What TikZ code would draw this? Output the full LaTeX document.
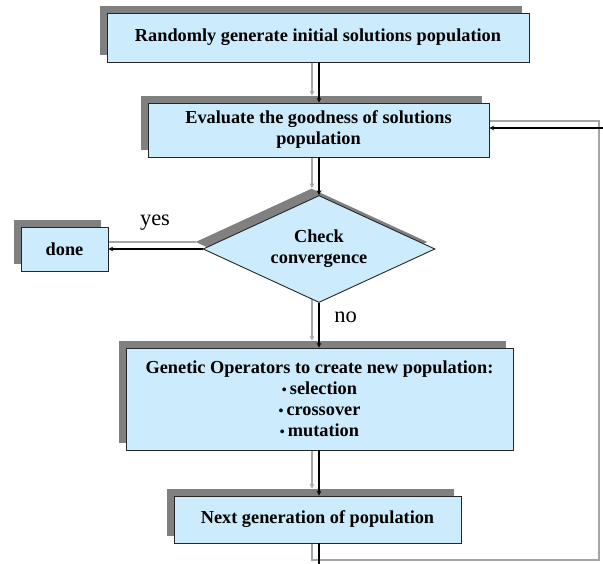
\documentclass[tikz,border=0pt]{standalone}
\usepackage{fontspec}
\setmainfont{Liberation Serif}
\usetikzlibrary{shapes.geometric, shadows, backgrounds}
\definecolor{boxblue}{RGB}{204,235,252}
\definecolor{shadowgray}{RGB}{128,128,128}
\definecolor{lineshadow}{RGB}{165,165,165}
\newcommand{\smallbullet}{{\fontsize{14}{14}\selectfont\textbullet}\,}
\tikzset{
  box/.style={draw=black!85, line width=0.9pt, fill=boxblue, align=center,
    font=\bfseries\fontsize{18.3}{21}\selectfont, inner sep=0pt,
    general shadow={fill=shadowgray, draw=none, shadow xshift=-7.5pt, shadow yshift=7pt}},
  link/.style={->, >=stealth, line width=1.1pt, black},
  linkshadow/.style={->, >=stealth, line width=1.1pt, lineshadow,
    transform canvas={xshift=-7pt, yshift=7pt}},
  answer/.style={font=\fontsize{22.5}{22.5}\selectfont}
}

\begin{document}
\begin{tikzpicture}[x=1pt, y=1pt]
\useasboundingbox (0,0) rectangle (603,564);
\node [box, minimum width=422, minimum height=49] (init) at (318,526.5) {Randomly generate initial solutions population};
\node [box, minimum width=341, minimum height=54] (eval) at (318.5,434) {Evaluate the goodness of solutions\\population};
\node [box, diamond, aspect=2.17, minimum width=232, minimum height=107] (check) at (319,315) {Check\\convergence};
\node [box, minimum width=87, minimum height=44] (done) at (64.5,315) {done};
\node [box, minimum width=387, minimum height=102] (genop) at (319.5,165) {Genetic Operators to create new population:\\\smallbullet selection\\\smallbullet crossover\\\smallbullet mutation};
\node [box, minimum width=287, minimum height=47] (next) at (317.5,44.5) {Next generation of population};
\node [answer] (yes) at (155,341) {yes};
\node [answer] (no) at (345.5,247) {no};
\coordinate (loopa) at (319,-3);
\coordinate (loopb) at (606,-3);
\coordinate (loopc) at (606,436);
% shadows of the connectors
\begin{scope}[on background layer]
\draw [linkshadow] (319,0 |- init.south) -- (319,0 |- eval.north);
\draw [linkshadow] (319,0 |- eval.south) -- (check.north);
\draw [linkshadow] (check.west) -- (done.east);
\draw [linkshadow] (check.south) -- (319,0 |- genop.north);
\draw [linkshadow] (319,0 |- genop.south) -- (319,0 |- next.north);
\draw [linkshadow, -] (319,0 |- next.south) -- (loopa) -- (loopb) -- (loopc) -- (eval.east |- loopc);
\end{scope}
\draw [link] (319,0 |- init.south) -- (319,0 |- eval.north);
\draw [link] (319,0 |- eval.south) -- (check.north);
\draw [link] (check.west) -- (done.east);
\draw [link] (check.south) -- (319,0 |- genop.north);
\draw [link] (319,0 |- genop.south) -- (319,0 |- next.north);
\draw [link] (319,0 |- next.south) -- (loopa) -- (loopb) -- (loopc) -- (eval.east |- loopc);
\end{tikzpicture}
\end{document}
